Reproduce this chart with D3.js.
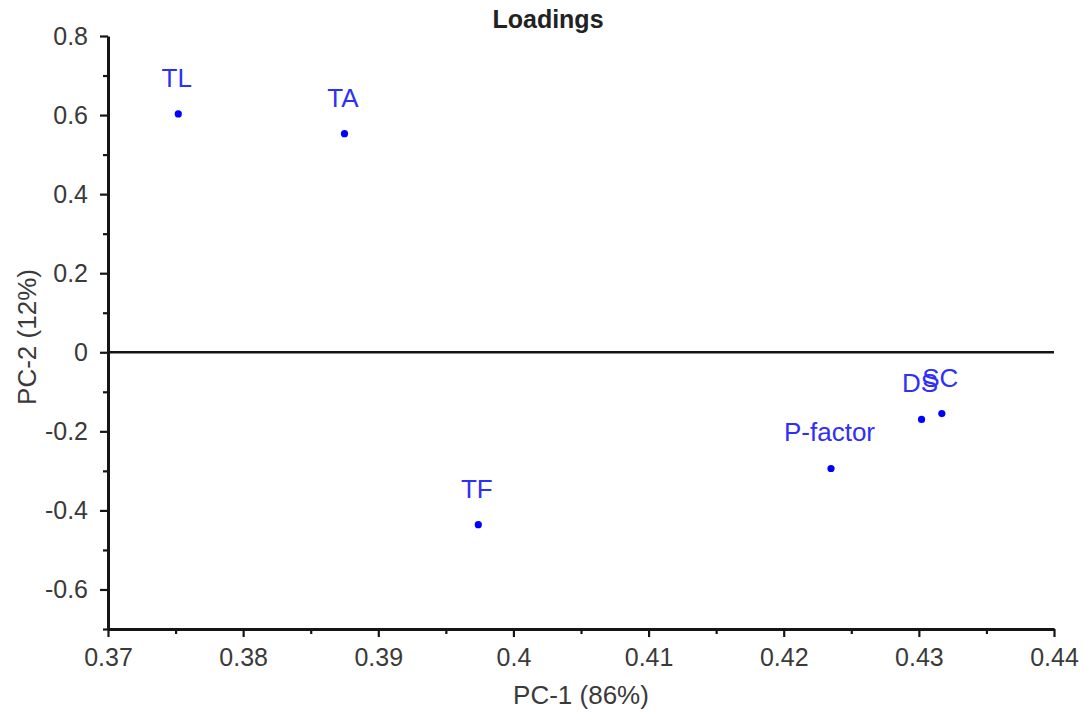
<!DOCTYPE html>
<html>
<head>
<meta charset="utf-8">
<script src="https://cdn.jsdelivr.net/npm/d3@7"></script>
<style>
  html, body { margin: 0; padding: 0; background: #fff; }
  svg { display: block; font-family: "Liberation Sans", Arial, sans-serif; }
</style>
</head>
<body>
<svg id="chart" width="1084" height="715"></svg>
<script>
// PCA loadings: variable names with their PC-1 / PC-2 coordinates
const variables = ["TL", "TA", "TF", "P-factor", "DS", "SC"];
const pc1 = [0.3752, 0.3875, 0.3974, 0.4235, 0.4302, 0.4317];
const pc2 = [0.603, 0.553, -0.436, -0.294, -0.170, -0.155];

const xTicks = [0.37, 0.38, 0.39, 0.40, 0.41, 0.42, 0.43, 0.44];
const xTickLabels = ["0.37", "0.38", "0.39", "0.4", "0.41", "0.42", "0.43", "0.44"];
const yTicks = [0.8, 0.6, 0.4, 0.2, 0, -0.2, -0.4, -0.6];
const yTickLabels = ["0.8", "0.6", "0.4", "0.2", "0", "-0.2", "-0.4", "-0.6"];
const xMinor = [0.375, 0.385, 0.395, 0.405, 0.415, 0.425, 0.435];
const yMinor = [0.7, 0.5, 0.3, 0.1, -0.1, -0.3, -0.5, -0.7];

const svg = d3.select("#chart");
const plot = { left: 108, right: 1054, top: 36, bottom: 629 };

const x = d3.scaleLinear().domain([0.37, 0.44]).range([plot.left, plot.right]);
const y = d3.scaleLinear().domain([-0.7, 0.8]).range([plot.bottom, plot.top]);

const axisColor = "#151515";
const labelColor = "#3a3a3a";

function styleAxis(g) {
  g.selectAll(".domain").attr("stroke", axisColor).attr("stroke-width", 3);
  g.selectAll(".tick line").attr("stroke", axisColor).attr("stroke-width", 2.2);
  g.selectAll(".tick text").attr("fill", labelColor)
    .style("font-size", "25px").style("font-family", "'Liberation Sans', Arial, sans-serif");
}

function minorTicks(g) {
  g.select(".domain").remove();
  g.selectAll(".tick line").attr("stroke", axisColor).attr("stroke-width", 2.2);
}

// minor ticks
svg.append("g")
  .attr("transform", `translate(0,${plot.bottom})`)
  .call(d3.axisBottom(x).tickValues(xMinor).tickSize(5).tickFormat(""))
  .call(minorTicks);
svg.append("g")
  .attr("transform", `translate(${plot.left},0)`)
  .call(d3.axisLeft(y).tickValues(yMinor).tickSize(5).tickFormat(""))
  .call(minorTicks);

// major axes
svg.append("g")
  .attr("transform", `translate(0,${plot.bottom})`)
  .call(d3.axisBottom(x).tickValues(xTicks).tickSize(8).tickSizeOuter(0).tickPadding(11)
    .tickFormat((d, i) => xTickLabels[i]))
  .call(styleAxis);

svg.append("g")
  .attr("transform", `translate(${plot.left},0)`)
  .call(d3.axisLeft(y).tickValues(yTicks).tickSize(8).tickSizeOuter(0).tickPadding(12)
    .tickFormat((d, i) => yTickLabels[i]))
  .call(styleAxis);

// zero reference line
svg.append("line")
  .attr("x1", x(0.37)).attr("x2", x(0.44))
  .attr("y1", y(0)).attr("y2", y(0))
  .attr("stroke", axisColor).attr("stroke-width", 2.5);

// loading points and their names
const data = variables.map((name, i) => ({ name, px: pc1[i], py: pc2[i] }));

svg.append("g").selectAll("circle")
  .data(data).join("circle")
  .attr("cx", d => x(d.px))
  .attr("cy", d => y(d.py))
  .attr("r", 3.6)
  .attr("fill", "#0000ff");

svg.append("g").selectAll("text")
  .data(data).join("text")
  .attr("x", d => x(d.px) - 1.5)
  .attr("y", d => y(d.py) - 27)
  .attr("text-anchor", "middle")
  .attr("fill", "#2f2ff8")
  .style("font-size", "26px")
  .text(d => d.name);

// title and axis titles
svg.append("text")
  .attr("x", 548).attr("y", 28)
  .attr("text-anchor", "middle")
  .attr("fill", "#222")
  .style("font-size", "25px")
  .style("font-weight", "bold")
  .text("Loadings");

svg.append("text")
  .attr("x", 581).attr("y", 704)
  .attr("text-anchor", "middle")
  .attr("fill", labelColor)
  .style("font-size", "26px")
  .text("PC-1 (86%)");

svg.append("text")
  .attr("transform", "translate(36,337) rotate(-90)")
  .attr("text-anchor", "middle")
  .attr("fill", labelColor)
  .style("font-size", "26px")
  .text("PC-2 (12%)");
</script>
</body>
</html>
